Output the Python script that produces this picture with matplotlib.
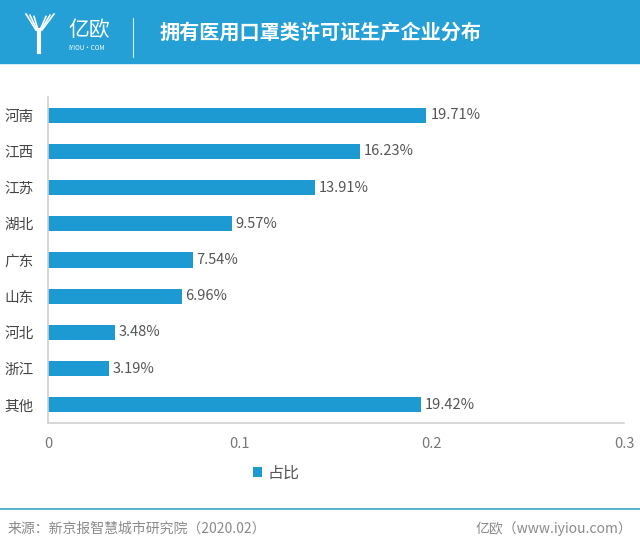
import matplotlib
matplotlib.use("Agg")
import matplotlib.pyplot as plt
from matplotlib.patches import Rectangle
from matplotlib.lines import Line2D

plt.rcParams['font.family'] = ['Noto Sans CJK SC', 'DejaVu Sans']

regions = ['河南', '江西', '江苏', '湖北', '广东', '山东', '河北', '浙江', '其他']
shares = [0.1971, 0.1623, 0.1391, 0.0957, 0.0754, 0.0696, 0.0348, 0.0319, 0.1942]
xticks = [0, 0.1, 0.2, 0.3]
xtick_labels = ['0', '0.1', '0.2', '0.3']

bar_color = '#1e9ad2'
head_color = '#25a0d7'

fig = plt.figure(figsize=(6.4, 5.51), dpi=100)

# header band
fig.patches.append(Rectangle((0, 1 - 63 / 551), 1, 63 / 551, transform=fig.transFigure,
                             color=head_color, zorder=0))
fig.text(68 / 640, 1 - 30 / 551, '亿欧', color='white', fontsize=15, va='center', ha='left')
fig.text(68 / 640, 1 - 48 / 551, 'IYIOU·COM', color='white', fontsize=4.5, va='center', ha='left')
# small logo mark
for dx in [0, 4, 8]:
    fig.lines.append(Line2D([(26 + dx) / 640, (36 + dx * 0.25) / 640],
                            [1 - (14 + dx * 0.3) / 551, 1 - 30 / 551],
                            transform=fig.transFigure, color='white', lw=1.2))
    fig.lines.append(Line2D([(54 - dx) / 640, (42 - dx * 0.25) / 640],
                            [1 - (14 + dx * 0.3) / 551, 1 - 30 / 551],
                            transform=fig.transFigure, color='white', lw=1.2))
fig.lines.append(Line2D([39 / 640, 39 / 640], [1 - 30 / 551, 1 - 52 / 551],
                        transform=fig.transFigure, color='white', lw=3))
fig.lines.append(Line2D([133 / 640, 133 / 640], [1 - 18 / 551, 1 - 57 / 551],
                        transform=fig.transFigure, color='white', lw=0.8, alpha=0.8))
fig.text(160 / 640, 1 - 32 / 551, '拥有医用口罩类许可证生产企业分布', color='white',
         fontsize=14.5, fontweight='bold', va='center', ha='left')

ax = fig.add_axes([48 / 640, 1 - 423 / 551, 576 / 640, 326 / 551])
y = list(range(len(regions)))
bars = ax.barh(y, shares, height=0.42, color=bar_color, label='占比')
for yi, v in zip(y, shares):
    ax.text(v + 0.002, yi, f'{v * 100:.2f}%', va='center', ha='left', fontsize=10.5, color='#555555')

ax.set_xlim(0, 0.3)
ax.set_ylim(len(regions) - 0.5, -0.5)
ax.set_yticks(y)
ax.set_yticklabels(regions, fontsize=10.5, color='#444444')
ax.set_xticks(xticks)
ax.set_xticklabels(xtick_labels, fontsize=10.5, color='#777777')
ax.tick_params(axis='both', length=0)
ax.tick_params(axis='x', pad=10)
ax.tick_params(axis='y', pad=10)
for s in ['top', 'right']:
    ax.spines[s].set_visible(False)
for s in ['left', 'bottom']:
    ax.spines[s].set_color('#d0d0d0')
    ax.spines[s].set_linewidth(1.2)

fig.legend(handles=[bars], labels=['占比'], loc='center', bbox_to_anchor=(276 / 640, 1 - 473 / 551),
           frameon=False, fontsize=11.5, handlelength=0.6, handleheight=0.6, handletextpad=0.3,
           labelcolor='#555555')

# footer
fig.lines.append(Line2D([0, 1], [1 - 509 / 551, 1 - 509 / 551], transform=fig.transFigure,
                        color='#3aa6c4', lw=1.2))
fig.text(8 / 640, 1 - 529 / 551, '来源：新京报智慧城市研究院（2020.02）', fontsize=10, color='#8a8a8a',
         va='center', ha='left')
fig.text(632 / 640, 1 - 529 / 551, '亿欧（www.iyiou.com）', fontsize=10, color='#8a8a8a',
         va='center', ha='right')

fig.savefig('out.png', dpi=100)
